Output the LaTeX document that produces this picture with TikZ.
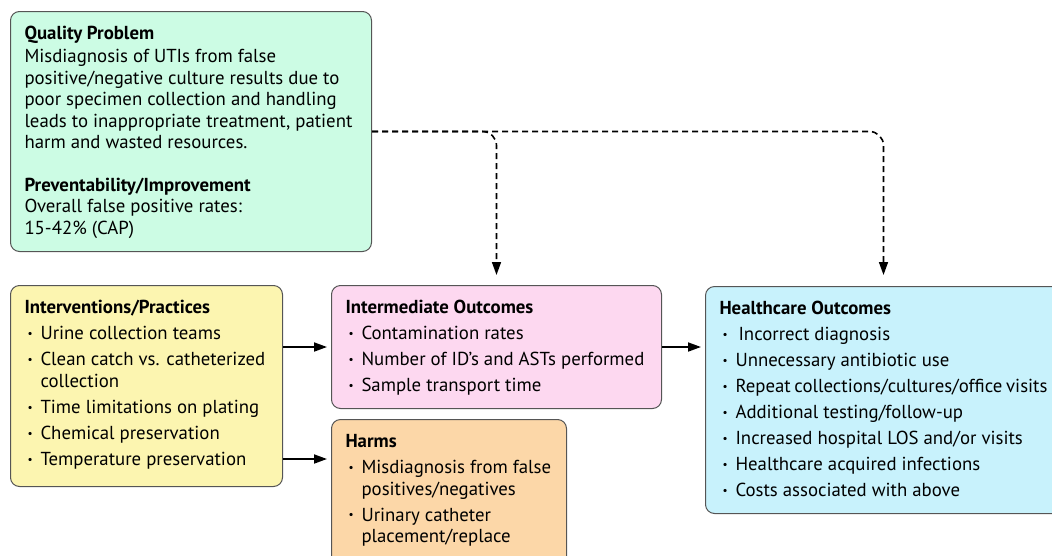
\documentclass[tikz,border=0pt]{standalone}
\usepackage{fontspec}
\setmainfont{PT Sans}
\usetikzlibrary{arrows.meta}
\definecolor{qualfill}{RGB}{204,252,228}
\definecolor{intvfill}{RGB}{252,245,176}
\definecolor{midfill}{RGB}{253,216,240}
\definecolor{harmfill}{RGB}{252,215,168}
\definecolor{carefill}{RGB}{200,242,252}
\definecolor{edge}{RGB}{85,85,85}
\newcommand\itm[1]{\par\vspace{4.5pt}\hangindent=16pt\hangafter=1\noindent
  \makebox[16pt][l]{\hspace{3pt}\raisebox{2.3pt}{\scalebox{0.6}{\textbullet}}}#1}
\newcommand\panelbody[3]{\parbox[c][#2][t]{#1}{\vspace*{15pt}#3}}
\tikzset{
  panel/.style={draw=edge,line width=1pt,rounded corners=9pt,anchor=north west,
    inner xsep=14pt,inner ysep=0pt,align=left,font=\fontsize{18.8}{21.5}\selectfont},
  flow/.style={line width=1.8pt,-{Triangle[length=13pt,width=9pt]},shorten >=4pt},
  hint/.style={line width=1.6pt,dash pattern=on 6pt off 4pt,rounded corners=14pt,
    -{Triangle[length=13pt,width=9pt]}}
}
\begin{document}
\begin{tikzpicture}[x=1pt,y=1pt]
\useasboundingbox (0,0) rectangle (1052,-555);
\node[panel,fill=qualfill] (qual) at (10,-11) {\panelbody{333pt}{240pt}{%
  \textbf{Quality Problem}\par\vspace{1.5pt}
  Misdiagnosis of UTIs from false\\
  positive/negative culture results due to\\
  poor specimen collection and handling\\
  leads to inappropriate treatment, patient\\
  harm and wasted resources.\par\vspace{21pt}
  \textbf{Preventability/Improvement}\\
  Overall false positive rates:\\
  15-42\% (CAP)}};
\node[panel,fill=intvfill] (intv) at (10,-285) {\panelbody{244pt}{201pt}{%
  \textbf{Interventions/Practices}
  \itm{Urine collection teams}
  \itm{Clean catch vs. catheterized\\collection}
  \itm{Time limitations on plating}
  \itm{Chemical preservation}
  \itm{Temperature preservation}}};
\node[panel,fill=midfill] (mid) at (331,-285) {\panelbody{302pt}{123pt}{%
  \textbf{Intermediate Outcomes}
  \itm{Contamination rates}
  \itm{Number of ID’s and ASTs performed}
  \itm{Sample transport time}}};
\node[panel,fill=harmfill] (harm) at (331,-419) {\panelbody{207pt}{150pt}{%
  \textbf{Harms}
  \itm{Misdiagnosis from false\\positives/negatives}
  \itm{Urinary catheter\\placement/replace}}};
\node[panel,fill=carefill] (care) at (705,-286) {\panelbody{328pt}{227pt}{%
  \textbf{Healthcare Outcomes}
  \itm{\hspace{3pt}Incorrect diagnosis}
  \itm{Unnecessary antibiotic use}
  \itm{Repeat collections/cultures/office visits}
  \itm{Additional testing/follow-up}
  \itm{Increased hospital LOS and/or visits}
  \itm{Healthcare acquired infections}
  \itm{Costs associated with above}}};
\draw[flow] (intv.east |- mid.west) -- (mid.west);
\draw[flow] ([yshift=28pt]intv.south east) coordinate (hx) -- (hx -| harm.west);
\draw[flow] (mid.east) -- (mid.east -| care.west);
\draw[hint,shorten >=10pt] (qual.east) -| (mid.north);
\draw[hint,shorten >=11pt] (qual.east) -| (care.north);
\end{tikzpicture}
\end{document}
